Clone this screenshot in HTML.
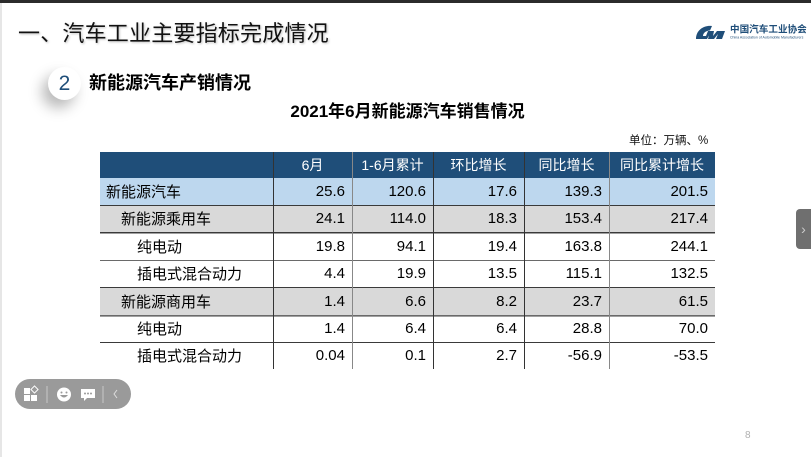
<!DOCTYPE html>
<html><head><meta charset="utf-8">
<style>
*{margin:0;padding:0;box-sizing:border-box}
body{width:811px;height:457px;background:#fff;position:relative;overflow:hidden;font-family:"Liberation Sans","Noto Sans CJK SC",sans-serif;color:#000}
.abs{position:absolute}
.topbar{left:0;top:0;width:811px;height:3px;background:#2b2b2b}
.leftedge{left:0;top:3px;width:2px;height:454px;background:#e6e6e6}
.title{left:18px;top:18px;font-size:22px;line-height:32px;color:#111;white-space:nowrap;letter-spacing:0.2px;text-shadow:1px 1px 2px rgba(0,0,0,0.25)}
.circ{left:48px;top:67px;width:33px;height:33px;border-radius:50%;background:#fff;box-shadow:-6px 8px 14px rgba(0,0,0,0.28);text-align:center;line-height:33px;font-size:21px;color:#1f4e79}
.sub{left:89px;top:70px;font-size:18px;font-weight:bold;line-height:26px;white-space:nowrap}
.ctitle{left:0;width:811px;top:100px;text-align:center;padding-left:4px;font-size:17px;font-weight:bold;line-height:24px;white-space:nowrap}
.unit{left:629px;top:133px;font-size:11.5px;line-height:16px;white-space:nowrap;color:#111}
.row{position:absolute;left:100px;width:615px;font-size:15px;white-space:nowrap}
.cell{position:absolute;top:0;height:100%;display:flex;align-items:center}
.hd .cell{justify-content:center;color:#fff;font-size:14px}
.num{justify-content:flex-end;padding-right:7px}
.vl{position:absolute;top:152px;width:1px;height:217px}
.hl{position:absolute;left:100px;width:615px;height:1px;background:#3a3a3a}
.hl2{position:absolute;left:100px;width:615px;height:1px;background:#a0a0a0}
.tool{left:15px;top:379px;width:116px;height:30px;border-radius:15px;background:#9a9a9a}
.arrow{left:796px;top:209px;width:15px;height:40px;background:#6f6f6f;border-radius:4px 0 0 4px;color:#ccc;font-size:14px;line-height:40px;text-align:center}
.pg{left:745px;top:430px;font-size:10px;color:#b0b0b0}
</style></head><body>
<div class="abs topbar"></div>
<div class="abs leftedge"></div>
<div class="abs title">一、汽车工业主要指标完成情况</div>

<!-- logo -->
<svg class="abs" style="left:694px;top:21px" width="117" height="24" viewBox="0 0 117 24">
  <path d="M2 18 C2 9 10 4 18 5 L16 9.5 C12 9.5 9 12 9 15 L12 15 L14 10 L20 10 L19 15 L23 10 L31 10 L28 18 L22 18 L24 13 L20 18 L14 18 L15 14.5 L13 18 Z" fill="#1f4e79"/>
  <text x="36" y="11.5" font-size="9.6" font-weight="bold" fill="#1f4e79" font-family="Noto Sans CJK SC, sans-serif">中国汽车工业协会</text>
  <text x="36" y="17.5" font-size="3.5" fill="#1f4e79" font-family="Liberation Sans, sans-serif">China Association of Automobile Manufacturers</text>
</svg>

<div class="abs circ">2</div>
<div class="abs sub">新能源汽车产销情况</div>
<div class="abs ctitle">2021年6月新能源汽车销售情况</div>
<div class="abs unit">单位：万辆、%</div>

<!-- header -->
<div class="row hd" style="top:152px;height:25px;background:#1f4e79">
  <div class="cell" style="left:173px;width:79px">6月</div>
  <div class="cell" style="left:252px;width:81px">1-6月累计</div>
  <div class="cell" style="left:333px;width:91px">环比增长</div>
  <div class="cell" style="left:424px;width:85px">同比增长</div>
  <div class="cell" style="left:509px;width:106px">同比累计增长</div>
</div>

<div class="row" style="top:177px;height:28px;background:#bdd7ee">
  <div class="cell" style="left:6px">新能源汽车</div>
  <div class="cell num" style="left:173px;width:79px">25.6</div>
  <div class="cell num" style="left:252px;width:81px">120.6</div>
  <div class="cell num" style="left:333px;width:91px">17.6</div>
  <div class="cell num" style="left:424px;width:85px">139.3</div>
  <div class="cell num" style="left:509px;width:106px">201.5</div>
</div>
<div class="row" style="top:205px;height:27px;background:#d9d9d9">
  <div class="cell" style="left:21px">新能源乘用车</div>
  <div class="cell num" style="left:173px;width:79px">24.1</div>
  <div class="cell num" style="left:252px;width:81px">114.0</div>
  <div class="cell num" style="left:333px;width:91px">18.3</div>
  <div class="cell num" style="left:424px;width:85px">153.4</div>
  <div class="cell num" style="left:509px;width:106px">217.4</div>
</div>
<div class="row" style="top:232px;height:28px">
  <div class="cell" style="left:37px">纯电动</div>
  <div class="cell num" style="left:173px;width:79px">19.8</div>
  <div class="cell num" style="left:252px;width:81px">94.1</div>
  <div class="cell num" style="left:333px;width:91px">19.4</div>
  <div class="cell num" style="left:424px;width:85px">163.8</div>
  <div class="cell num" style="left:509px;width:106px">244.1</div>
</div>
<div class="row" style="top:260px;height:27px">
  <div class="cell" style="left:37px">插电式混合动力</div>
  <div class="cell num" style="left:173px;width:79px">4.4</div>
  <div class="cell num" style="left:252px;width:81px">19.9</div>
  <div class="cell num" style="left:333px;width:91px">13.5</div>
  <div class="cell num" style="left:424px;width:85px">115.1</div>
  <div class="cell num" style="left:509px;width:106px">132.5</div>
</div>
<div class="row" style="top:287px;height:28px;background:#d9d9d9">
  <div class="cell" style="left:21px">新能源商用车</div>
  <div class="cell num" style="left:173px;width:79px">1.4</div>
  <div class="cell num" style="left:252px;width:81px">6.6</div>
  <div class="cell num" style="left:333px;width:91px">8.2</div>
  <div class="cell num" style="left:424px;width:85px">23.7</div>
  <div class="cell num" style="left:509px;width:106px">61.5</div>
</div>
<div class="row" style="top:315px;height:27px">
  <div class="cell" style="left:37px">纯电动</div>
  <div class="cell num" style="left:173px;width:79px">1.4</div>
  <div class="cell num" style="left:252px;width:81px">6.4</div>
  <div class="cell num" style="left:333px;width:91px">6.4</div>
  <div class="cell num" style="left:424px;width:85px">28.8</div>
  <div class="cell num" style="left:509px;width:106px">70.0</div>
</div>
<div class="row" style="top:342px;height:27px">
  <div class="cell" style="left:37px">插电式混合动力</div>
  <div class="cell num" style="left:173px;width:79px">0.04</div>
  <div class="cell num" style="left:252px;width:81px">0.1</div>
  <div class="cell num" style="left:333px;width:91px">2.7</div>
  <div class="cell num" style="left:424px;width:85px">-56.9</div>
  <div class="cell num" style="left:509px;width:106px">-53.5</div>
</div>

<!-- horizontal lines -->
<div class="hl" style="top:177px;background:#1f4e79"></div>
<div class="hl" style="top:205px"></div>
<div class="hl" style="top:232px"></div>
<div class="hl2" style="top:233px"></div>
<div class="hl" style="top:260px;background:#6a6a6a"></div>
<div class="hl" style="top:287px"></div>
<div class="hl" style="top:315px;background:#6a6a6a"></div>
<div class="hl2" style="top:316px"></div>
<div class="hl" style="top:342px"></div>

<!-- vertical lines -->
<div class="vl" style="left:273px;background:#333"></div>
<div class="vl" style="left:352px;background:#888"></div>
<div class="vl" style="left:433px;background:#333"></div>
<div class="vl" style="left:524px;background:#333"></div>
<div class="vl" style="left:609px;background:#888"></div>

<!-- toolbar -->
<div class="abs tool"></div>
<svg class="abs" style="left:15px;top:379px" width="116" height="30">
  <rect x="9" y="9" width="6" height="6" fill="#fff"/>
  <rect x="9" y="16" width="6" height="6" fill="#fff"/>
  <rect x="16" y="16" width="6" height="6" fill="#fff"/>
  <rect x="17" y="8" width="5" height="5" fill="none" stroke="#fff" stroke-width="1" transform="rotate(45 19.5 10.5)"/>
  <line x1="32" y1="7" x2="32" y2="24" stroke="#c8c8c8" stroke-width="1"/>
  <circle cx="49" cy="15.5" r="7" fill="#fff"/>
  <circle cx="46.5" cy="13.5" r="1" fill="#9a9a9a"/>
  <circle cx="51.5" cy="13.5" r="1" fill="#9a9a9a"/>
  <path d="M45 16 Q49 21 53 16 Z" fill="#9a9a9a"/>
  <path d="M66 10 h14 v9 h-8 l-3 3 v-3 h-3 z" fill="#fff"/>
  <circle cx="70" cy="14.5" r="1" fill="#9a9a9a"/>
  <circle cx="73" cy="14.5" r="1" fill="#9a9a9a"/>
  <circle cx="76" cy="14.5" r="1" fill="#9a9a9a"/>
  <line x1="88" y1="7" x2="88" y2="24" stroke="#c8c8c8" stroke-width="1"/>
  <path d="M102 11 L99 15 L102 19" fill="none" stroke="#ddd" stroke-width="1"/>
</svg>

<!-- right arrow tab -->
<div class="abs arrow">›</div>
<div class="abs pg">8</div>
</body></html>
